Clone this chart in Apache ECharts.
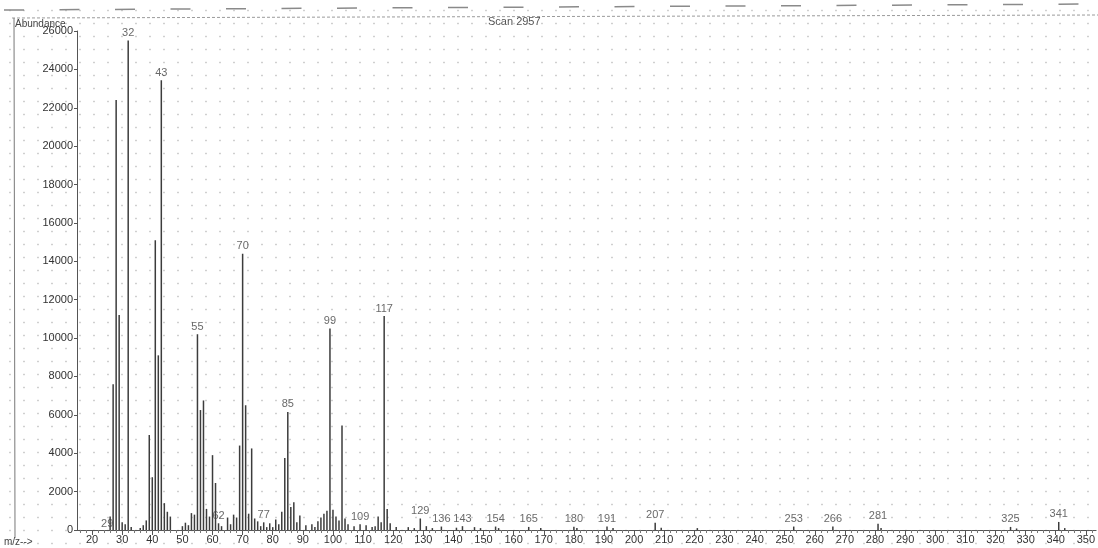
<!DOCTYPE html>
<html>
<head>
<meta charset="utf-8">
<title>Scan 2957</title>
<script src="https://cdn.jsdelivr.net/npm/echarts@6/dist/echarts.min.js"></script>
<style>
  html, body { margin: 0; padding: 0; }
  body {
    width: 1098px; height: 548px; overflow: hidden;
    background-color: #ffffff;
    background-image: radial-gradient(circle, rgba(150,150,150,0.45) 0.8px, transparent 1.2px);
    background-size: 14px 13px;
    background-position: 3px 4px;
  }
  #chart { width: 1098px; height: 548px; }
</style>
</head>
<body>
<div id="chart"></div>
<script>
// Mass spectrum, scan 2957: m/z and abundance of each ion
const mz = [
  26, 27, 28, 29, 30, 31, 32, 33, 36, 37, 38, 39, 40, 41, 42, 43, 44, 45, 46,
  50, 51, 52, 53, 54, 55, 56, 57, 58, 59, 60, 61, 62, 63, 65, 66, 67, 68, 69,
  70, 71, 72, 73, 74, 75, 76, 77, 78, 79, 80, 81, 82, 83, 84, 85, 86, 87, 88, 89,
  91, 93, 94, 95, 96, 97, 98, 99, 100, 101, 102, 103, 104, 105, 107, 109,
  111, 113, 114, 115, 116, 117, 118, 119, 121, 125, 127, 129, 131, 133, 136,
  141, 143, 147, 149, 154, 155, 165, 169, 180, 181, 191, 193, 207, 209, 221,
  253, 266, 281, 282, 325, 327, 341, 343
];
const abundance = [
  700, 7600, 22400, 11200, 400, 300, 25500, 150, 100, 250, 500, 4950, 2750, 15100, 9100, 23440, 1400, 950, 700,
  200, 380, 250, 880, 800, 10200, 6250, 6750, 1100, 700, 3900, 2450, 350, 200, 650, 300, 800, 650, 4400,
  14400, 6500, 850, 4250, 600, 450, 200, 400, 150, 350, 150, 550, 300, 950, 3750, 6150, 1200, 1450, 400, 750,
  250, 300, 150, 450, 650, 850, 1000, 10500, 1050, 700, 500, 5450, 600, 300, 200, 300,
  250, 150, 200, 700, 400, 11150, 1100, 350, 150, 150, 100, 600, 200, 100, 180,
  120, 200, 150, 100, 180, 100, 160, 100, 170, 100, 180, 100, 380, 120, 100,
  180, 180, 320, 100, 160, 80, 420, 100
];

// ions that carry an m/z label above their line
const labeledMz = [32, 43, 55, 62, 70, 77, 85, 99, 109, 117, 129, 136, 143, 154, 165, 180, 191, 207, 253, 266, 281, 325, 341];
// ion whose label sits at the baseline, to the left of its cluster
const baselineLabeledMz = [29];

// axis ticks
const xTickLabels = [20, 30, 40, 50, 60, 70, 80, 90, 100, 110, 120, 130, 140, 150, 160, 170, 180, 190, 200,
  210, 220, 230, 240, 250, 260, 270, 280, 290, 300, 310, 320, 330, 340, 350];
const xMinorTicks = [16, 18, 22, 24, 26, 28, 32, 34, 36, 38, 42, 44, 46, 48, 52, 54, 56, 58, 62, 64, 66, 68,
  72, 74, 76, 78, 82, 84, 86, 88, 92, 94, 96, 98, 102, 104, 106, 108, 112, 114, 116, 118, 122, 124, 126, 128,
  132, 134, 136, 138, 142, 144, 146, 148, 152, 154, 156, 158, 162, 164, 166, 168, 172, 174, 176, 178,
  182, 184, 186, 188, 192, 194, 196, 198, 202, 204, 206, 208, 212, 214, 216, 218, 222, 224, 226, 228,
  232, 234, 236, 238, 242, 244, 246, 248, 252, 254, 256, 258, 262, 264, 266, 268, 272, 274, 276, 278,
  282, 284, 286, 288, 292, 294, 296, 298, 302, 304, 306, 308, 312, 314, 316, 318, 322, 324, 326, 328,
  332, 334, 336, 338, 342, 344, 346, 348, 352];
const yMin = 0, yMax = 26000, yStep = 2000;

const FONT = "'Liberation Sans', Arial, sans-serif";
const INK = '#3c3c3c';

const peaks = mz.map((m, i) => [m, abundance[i]]);
const labelPoints = labeledMz.map(m => [m, abundance[mz.indexOf(m)]]);
const basePoints = baselineLabeledMz.map(m => ({ value: [m, 0], name: String(m) }));

const chart = echarts.init(document.getElementById('chart'), null, { renderer: 'canvas' });

chart.setOption({
  animation: false,
  backgroundColor: 'transparent',
  textStyle: { fontFamily: FONT },
  grid: { left: 77, right: 0, top: 31, bottom: 18, containLabel: false },
  xAxis: [
    {
      type: 'value', min: 15, max: 353.4,
      axisLine: { show: true, lineStyle: { color: '#555', width: 1 } },
      axisTick: { show: true, customValues: xTickLabels, length: 5, lineStyle: { color: '#555' } },
      axisLabel: { show: true, customValues: xTickLabels, color: '#333', fontSize: 11, margin: 4,
        fontFamily: FONT, formatter: v => String(v) },
      splitLine: { show: false }
    },
    {
      type: 'value', min: 15, max: 353.4, position: 'bottom',
      axisLine: { show: false },
      axisTick: { show: true, customValues: xMinorTicks, length: 3, lineStyle: { color: '#777' } },
      axisLabel: { show: false },
      splitLine: { show: false }
    }
  ],
  yAxis: {
    type: 'value', min: yMin, max: yMax, interval: yStep,
    axisLine: { show: true, lineStyle: { color: '#555', width: 1 } },
    axisTick: { show: true, length: 3, lineStyle: { color: '#555' } },
    axisLabel: { color: '#333', fontSize: 11, margin: 4, fontFamily: FONT, formatter: v => String(v) },
    splitLine: { show: false }
  },
  series: [
    {
      name: 'abundance',
      type: 'bar',
      xAxisIndex: 0,
      barWidth: 1.5,
      itemStyle: { color: INK },
      data: peaks,
      silent: true
    },
    {
      name: 'peak labels',
      type: 'scatter',
      xAxisIndex: 0,
      symbolSize: 0,
      data: labelPoints,
      label: {
        show: true, position: 'top', distance: 2,
        formatter: p => String(p.value[0]),
        color: '#444', fontSize: 11, fontFamily: FONT
      },
      silent: true
    },
    {
      name: 'baseline labels',
      type: 'scatter',
      xAxisIndex: 0,
      symbolSize: 0,
      data: basePoints,
      label: {
        show: true, position: 'top', distance: 1, offset: [-12, 0],
        formatter: p => p.name,
        color: '#444', fontSize: 11, fontFamily: FONT
      },
      silent: true
    }
  ],
  graphic: [
    // scan artefact dashes along the upper edge
    { type: 'line', shape: { x1: 4, y1: 10, x2: 1098, y2: 4 },
      style: { stroke: '#8a8a8a', lineWidth: 1.5, lineDash: [20, 35.5] } },
    // report frame
    { type: 'line', shape: { x1: 12, y1: 18, x2: 1098, y2: 15 },
      style: { stroke: '#9a9a9a', lineWidth: 1, lineDash: [3, 2] } },
    { type: 'line', shape: { x1: 14, y1: 18, x2: 15, y2: 538 },
      style: { stroke: '#777', lineWidth: 1 } },
    { type: 'text', left: 15, top: 19,
      style: { text: 'Abundance', fill: '#444', font: '10px ' + FONT } },
    { type: 'text', left: 488, top: 16,
      style: { text: 'Scan 2957', fill: '#555', font: '11px ' + FONT } },
    { type: 'text', left: 4, top: 537,
      style: { text: 'm/z-->', fill: '#444', font: '10px ' + FONT } }
  ]
});
</script>
</body>
</html>
